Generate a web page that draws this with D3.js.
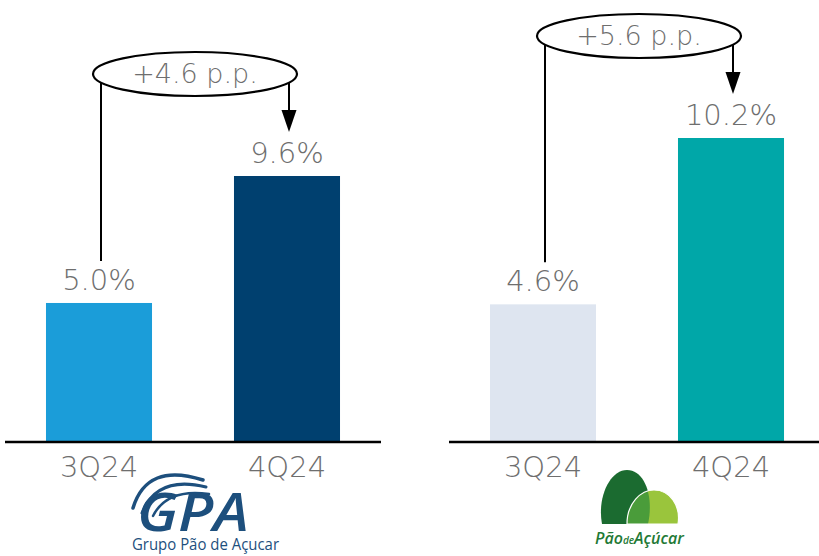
<!DOCTYPE html>
<html>
<head>
<meta charset="utf-8">
<script src="https://cdn.jsdelivr.net/npm/d3@7"></script>
<style>
  html, body { margin: 0; padding: 0; background: #fff; }
  svg { display: block; }
</style>
</head>
<body>
<svg id="chart" width="819" height="556"></svg>
<script>
// ---- data ----
const categories = ["3Q24", "4Q24"];
const gpaValues = [5.0, 9.6];
const padValues = [4.6, 10.2];
const gpaLabels = ["5.0%", "9.6%"];
const padLabels = ["4.6%", "10.2%"];
const gpaChange = "+4.6 p.p.";
const padChange = "+5.6 p.p.";
const gpaColors = ["#1b9dd9", "#00406f"];
const padColors = ["#dee5f0", "#00a7a8"];

const svg = d3.select("#chart");
const FONT = "'DejaVu Sans ExtraLight', 'DejaVu Sans', sans-serif";
const TXT = "#6e6e6e";

function panel(opts) {
  const g = svg.append("g");
  const x = d3.scaleBand().domain(categories).range(opts.xRange).padding(0);
  const y = d3.scaleLinear().domain([0, d3.max(opts.values)]).range([441, opts.topY]);
  const bw = x.bandwidth() * 0.564;
  const cx = c => x(c) + x.bandwidth() / 2;

  g.selectAll("rect.bar").data(categories).join("rect")
    .attr("class", "bar")
    .attr("x", c => cx(c) - bw / 2)
    .attr("width", bw)
    .attr("y", (c, i) => y(opts.values[i]))
    .attr("height", (c, i) => y(0) - y(opts.values[i]))
    .attr("fill", (c, i) => opts.colors[i]);

  // baseline
  g.append("line")
    .attr("x1", opts.lineX[0]).attr("x2", opts.lineX[1])
    .attr("y1", y(0) + 1).attr("y2", y(0) + 1)
    .attr("stroke", "#000").attr("stroke-width", 2.5);

  // value labels
  g.selectAll("text.val").data(categories).join("text")
    .attr("class", "val")
    .attr("x", c => cx(c))
    .attr("y", (c, i) => y(opts.values[i]) - 13)
    .attr("text-anchor", "middle")
    .attr("font-family", FONT).attr("font-weight", 200)
    .attr("font-size", 29).attr("fill", TXT)
    .text((c, i) => opts.labels[i]);

  // category labels
  g.selectAll("text.cat").data(categories).join("text")
    .attr("class", "cat")
    .attr("x", c => cx(c))
    .attr("y", 477)
    .attr("text-anchor", "middle")
    .attr("font-family", FONT).attr("font-weight", 200)
    .attr("font-size", 29).attr("fill", TXT)
    .text(c => c);

  // annotation
  const x1 = cx(categories[0]) + 2, x2 = cx(categories[1]) + 2;
  const ymax = y(d3.max(opts.values)), ymin = y(d3.min(opts.values));
  const ecx = (x1 + x2) / 2, ecy = ymax - 102;
  const rx = (x2 - x1) / 2 + 8, ry = 22;
  const tipY = ymax - 44;
  g.append("line").attr("x1", x1).attr("x2", x1).attr("y1", ecy).attr("y2", ymin - 42)
    .attr("stroke", "#000").attr("stroke-width", 2);
  g.append("line").attr("x1", x2).attr("x2", x2).attr("y1", ecy).attr("y2", tipY - 18)
    .attr("stroke", "#000").attr("stroke-width", 2);
  g.append("path")
    .attr("d", `M${x2 - 7.5},${tipY - 22} L${x2 + 7.5},${tipY - 22} L${x2},${tipY} Z`)
    .attr("fill", "#000");
  g.append("ellipse").attr("cx", ecx).attr("cy", ecy).attr("rx", rx).attr("ry", ry)
    .attr("fill", "#fff").attr("stroke", "#000").attr("stroke-width", 2.2);
  g.append("text").attr("x", ecx).attr("y", ecy + 9)
    .attr("text-anchor", "middle")
    .attr("font-family", FONT).attr("font-weight", 200)
    .attr("font-size", 27).attr("fill", TXT)
    .text(opts.change);
}

panel({ xRange: [5, 381], lineX: [5, 381], values: gpaValues, labels: gpaLabels,
        colors: gpaColors, topY: 176, change: gpaChange });
panel({ xRange: [449, 825], lineX: [449, 819], values: padValues, labels: padLabels,
        colors: padColors, topY: 138, change: padChange });

// ---- GPA logo ----
const gpaBlue = "#1d4f7d";
const lg = svg.append("g");
[["M133,508 Q147,462 203,480", 3.5], ["M142,513 Q157,475 206,487", 3], ["M153,516 Q167,488 209,494", 2.5]]
  .forEach(([d, w]) => lg.append("path").attr("d", d).attr("fill", "none")
    .attr("stroke", gpaBlue).attr("stroke-width", w).attr("stroke-linecap", "round"));
const gt = lg.append("text")
  .attr("font-family", "'Open Sans', sans-serif").attr("fill", gpaBlue);
gt.append("tspan").attr("x", 137).attr("y", 531)
  .attr("font-style", "italic").attr("font-weight", 600).attr("font-size", 52)
  .attr("textLength", 112).attr("lengthAdjust", "spacingAndGlyphs")
  .text("GPA");
gt.append("tspan").attr("x", 132).attr("y", 550)
  .attr("font-weight", 400).attr("font-size", 16)
  .attr("textLength", 147).attr("lengthAdjust", "spacingAndGlyphs")
  .text("Grupo Pão de Açucar");

// ---- Pão de Açúcar logo ----
const pg = svg.append("g");
const darkBlob = "M602,524 C597,497 610,470 627,470 C645,470 654,497 648,524 Z";
const lightBlob = "M627,524 C627,503 641,490 654,490 C670,490 681,506 678,524 Z";
pg.append("defs").append("clipPath").attr("id", "darkClip").append("path").attr("d", darkBlob);
pg.append("path").attr("d", darkBlob).attr("fill", "#1b6b30");
pg.append("path").attr("d", lightBlob).attr("fill", "#9ac53c");
pg.append("path").attr("d", lightBlob).attr("fill", "#4a9c3a").attr("clip-path", "url(#darkClip)");
pg.append("path").attr("d", lightBlob).attr("fill", "none").attr("stroke", "#fff").attr("stroke-width", 1.2);
const pt = pg.append("text").attr("x", 595).attr("y", 544)
  .attr("font-family", "'Open Sans', sans-serif").attr("font-style", "italic").attr("font-weight", 600)
  .attr("fill", "#1f7a36");
pt.append("tspan").attr("font-size", 16).text("Pão");
pt.append("tspan").attr("font-size", 10).text("de");
pt.append("tspan").attr("font-size", 16).text("Açúcar");
</script>
</body>
</html>
